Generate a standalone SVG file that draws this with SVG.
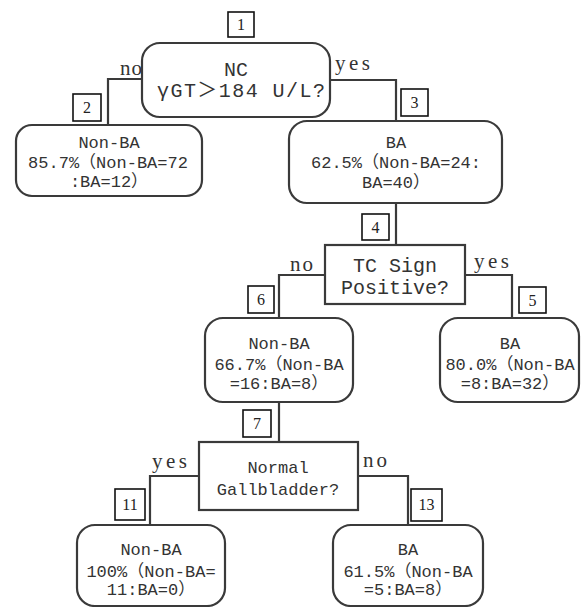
<svg xmlns="http://www.w3.org/2000/svg" width="581" height="607" viewBox="0 0 581 607">
<style>
.node{fill:#fff;stroke:#3a3a3a;stroke-width:2.2}
.conn{fill:none;stroke:#3a3a3a;stroke-width:2.2}
.lbl{fill:#fff;stroke:#111;stroke-width:1.6}
.num{font-family:"Liberation Serif","Noto Sans CJK SC",serif;font-size:16px;fill:#222;text-anchor:middle}
.t{font-family:"Liberation Mono","Noto Sans CJK SC",monospace;font-size:17px;fill:#333;text-anchor:middle}
.tb{font-family:"Liberation Mono","Noto Sans CJK SC",monospace;font-size:20px;fill:#333;text-anchor:middle}
.yn{font-family:"Liberation Serif","Noto Sans CJK SC",serif;font-size:21px;fill:#333}
</style>
<rect width="581" height="607" fill="#fff"/>
<g id="connectors">
<path class="conn" d="M142,79 H108 V125"/>
<path class="conn" d="M330,80 H396 V121"/>
<path class="conn" d="M396,203 V245"/>
<path class="conn" d="M325,275 H279 V318"/>
<path class="conn" d="M465,275 H512 V318"/>
<path class="conn" d="M279,402 V442"/>
<path class="conn" d="M199,476 H150 V525"/>
<path class="conn" d="M358,476 H408 V525"/>
<text class="yn" x="120" y="75" textLength="22">no</text>
<text class="yn" x="335" y="70" textLength="35">yes</text>
<text class="yn" x="290" y="271" textLength="23">no</text>
<text class="yn" x="474" y="268" textLength="35">yes</text>
<text class="yn" x="152" y="468" textLength="35">yes</text>
<text class="yn" x="363" y="467" textLength="24">no</text>
</g>
<g id="node1">
<rect class="node" x="142" y="43" width="188" height="74" rx="18"/>
<text class="tb" x="236" y="76">NC</text>
<text class="tb" x="241" y="97" textLength="168">γGT＞184 U/L?</text>
<rect class="lbl" x="228" y="12" width="26" height="25"/>
<text class="num" x="241" y="30">1</text>
</g>
<g id="node2">
<rect class="node" x="16" y="125" width="186" height="71" rx="16"/>
<text class="t" x="109" y="148">Non-BA</text>
<text class="t" x="108" y="168">85.7%（Non-BA=72</text>
<text class="t" x="109" y="187">:BA=12）</text>
<rect class="lbl" x="73" y="94" width="28" height="27"/>
<text class="num" x="87" y="113">2</text>
</g>
<g id="node3">
<rect class="node" x="289" y="121" width="213" height="82" rx="18"/>
<text class="t" x="396" y="148">BA</text>
<text class="t" x="396" y="168">62.5%（Non-BA=24:</text>
<text class="t" x="396" y="188">BA=40）</text>
<rect class="lbl" x="401" y="89" width="27" height="27"/>
<text class="num" x="414.5" y="108">3</text>
</g>
<g id="node4">
<rect class="node" x="325" y="245" width="140" height="59"/>
<text class="tb" x="395" y="272">TC Sign</text>
<text class="tb" x="395" y="294">Positive?</text>
<rect class="lbl" x="362" y="214" width="27" height="26"/>
<text class="num" x="375.5" y="233">4</text>
</g>
<g id="node5">
<rect class="node" x="440" y="318" width="139" height="84" rx="18"/>
<text class="t" x="510" y="349">BA</text>
<text class="t" x="510" y="370">80.0%（Non-BA</text>
<text class="t" x="510" y="389">=8:BA=32）</text>
<rect class="lbl" x="519" y="287" width="27" height="26"/>
<text class="num" x="532.5" y="306">5</text>
</g>
<g id="node6">
<rect class="node" x="205" y="318" width="148" height="84" rx="18"/>
<text class="t" x="279" y="349">Non-BA</text>
<text class="t" x="279" y="370">66.7%（Non-BA</text>
<text class="t" x="279" y="389">=16:BA=8）</text>
<rect class="lbl" x="248" y="286" width="26" height="27"/>
<text class="num" x="261" y="305">6</text>
</g>
<g id="node7">
<rect class="node" x="199" y="442" width="159" height="68"/>
<text class="t" x="278" y="473">Normal</text>
<text class="t" x="278" y="495">Gallbladder?</text>
<rect class="lbl" x="243" y="410" width="28" height="27"/>
<text class="num" x="257" y="429">7</text>
</g>
<g id="node11">
<rect class="node" x="77" y="525" width="148" height="81" rx="18"/>
<text class="t" x="151" y="555">Non-BA</text>
<text class="t" x="151" y="577">100%（Non-BA=</text>
<text class="t" x="151" y="595">11:BA=0）</text>
<rect class="lbl" x="115" y="489" width="30" height="31"/>
<text class="num" x="130" y="510">11</text>
</g>
<g id="node13">
<rect class="node" x="333" y="525" width="150" height="81" rx="18"/>
<text class="t" x="408" y="555">BA</text>
<text class="t" x="408" y="577">61.5%（Non-BA</text>
<text class="t" x="408" y="595">=5:BA=8）</text>
<rect class="lbl" x="411" y="489" width="31" height="32"/>
<text class="num" x="426.5" y="510">13</text>
</g>
</svg>
